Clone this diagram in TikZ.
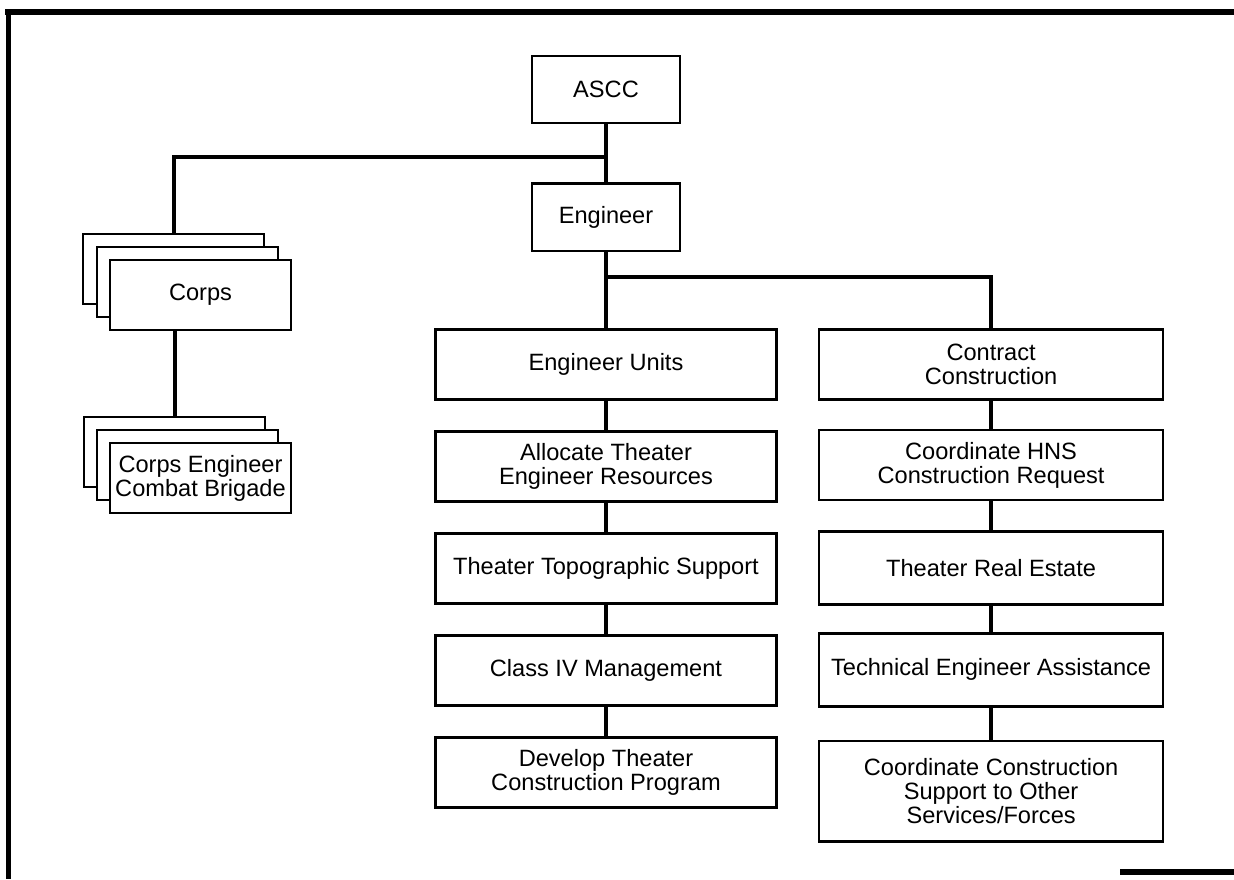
\documentclass[tikz,border=0pt]{standalone}
\usepackage{fontspec}
\setmainfont{Liberation Sans}
\usetikzlibrary{positioning, calc}
\tikzset{
  % Any box of the chart
  obox/.style={
    draw, line width=1.3pt, fill=white, align=center, text centered,
    inner sep=2pt, minimum height=35pt,
    font=\fontsize{11.8}{12}\selectfont
  },
  % Command boxes (ASCC, Engineer)
  cmd/.style={obox, minimum width=74pt, minimum height=33.6pt},
  % Stacked boxes on the left (Corps, brigades)
  stack/.style={obox, minimum width=90.5pt},
  % Engineer units column
  unit/.style={obox, minimum width=170.5pt},
  % Contract construction column
  ctr/.style={obox, minimum width=172pt},
  % Connector lines
  link/.style={draw, line width=2pt},
  % Page frame
  frame/.style={draw, line width=2.8pt}
}

\begin{document}
\begin{tikzpicture}

\useasboundingbox (0,0) rectangle (617pt,439.5pt);

% ============================================================
% FRAME
% ============================================================
\draw[frame] (2.5pt,433.5pt) -- (617pt,433.5pt);
\draw[frame] (4.25pt,434.9pt) -- (4.25pt,0);
\draw[frame] (560pt,3.5pt) -- (617pt,3.5pt);

% ============================================================
% TOP -- ASCC and Engineer
% ============================================================
\node[cmd] (ascc) at (303pt,394.75pt) {ASCC};
\node[cmd, below=29pt of ascc] (eng) {Engineer};
\coordinate (bus1) at ($(ascc.south)+(0,-16.5pt)$);
\coordinate (bus2) at ($(eng.south)+(0,-12.5pt)$);

% ============================================================
% LEFT -- Corps stack and brigades
% ============================================================
\coordinate (corps-c) at (100.25pt,292pt);
\node[stack] (corps-3) at ($(corps-c)+(-13.5pt,13pt)$) {};
\node[stack] (corps-2) at ($(corps-c)+(-6.5pt,6.5pt)$) {};
\node[stack] (corps)   at (corps-c) {Corps};

\coordinate (brig-c) at ($(corps-c)+(0,-91.5pt)$);
\node[stack] (brig-3) at ($(brig-c)+(-13pt,13pt)$) {};
\node[stack] (brig-2) at ($(brig-c)+(-6.5pt,6.5pt)$) {};
\node[stack] (brig)   at (brig-c) {Corps Engineer\\Combat Brigade};

% ============================================================
% CENTRE -- Engineer units column
% ============================================================
\node[unit, below=38pt of eng] (eu) {Engineer Units};
\node[unit, below=14.7pt of eu]    (alloc) {Allocate Theater\\Engineer Resources};
\node[unit, below=14.7pt of alloc] (topo)  {Theater Topographic Support};
\node[unit, below=14.7pt of topo]  (cl4)   {Class IV Management};
\node[unit, below=14.7pt of cl4]   (dev)   {Develop Theater\\Construction Program};

% ============================================================
% RIGHT -- Contract construction column
% ============================================================
\node[ctr, right=20pt of eu]     (cc)   {Contract\\Construction};
\node[ctr, below=14pt of cc]     (hns)  {Coordinate HNS\\Construction Request};
\node[ctr, below=14.5pt of hns, minimum height=36.5pt] (tre) {Theater Real Estate};
\node[ctr, below=13pt of tre, minimum height=36.5pt]   (tea) {Technical Engineer Assistance};
\node[ctr, below=16pt of tea, minimum height=50.2pt] (ccs)
  {Coordinate Construction\\Support to Other\\Services/Forces};

% ============================================================
% CONNECTORS
% ============================================================
\draw[link] (ascc.south) -- (eng.north);
\draw[link] (bus1) -| (corps-3.north);
\draw[link] (brig-3.north) -- (brig-3.north |- corps.south);

\draw[link] (eng.south) -- (eu.north);
\draw[link] (bus2) -| (cc.north);

\draw[link] (eu.south)    -- (alloc.north);
\draw[link] (alloc.south) -- (topo.north);
\draw[link] (topo.south)  -- (cl4.north);
\draw[link] (cl4.south)   -- (dev.north);

\draw[link] (cc.south)  -- (hns.north);
\draw[link] (hns.south) -- (tre.north);
\draw[link] (tre.south) -- (tea.north);
\draw[link] (tea.south) -- (ccs.north);

\end{tikzpicture}
\end{document}
